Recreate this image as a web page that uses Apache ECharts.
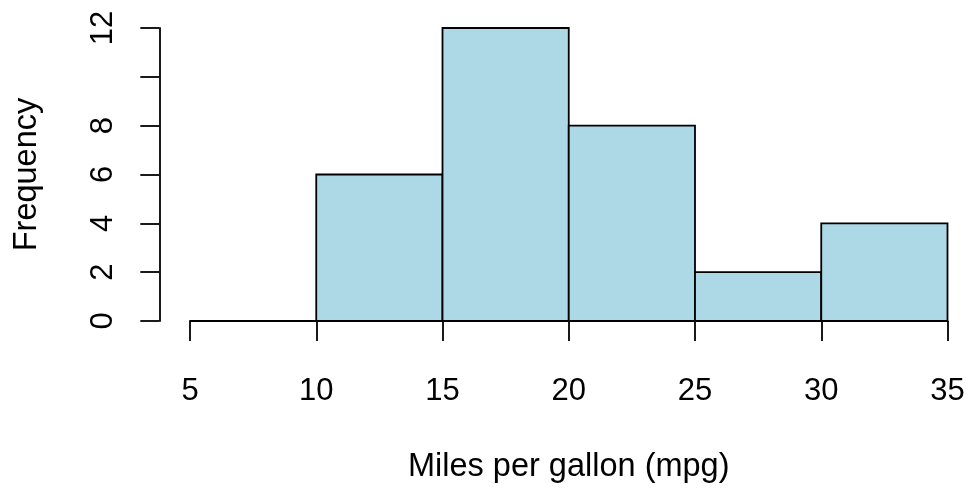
<!DOCTYPE html>
<html>
<head>
<meta charset="utf-8">
<script src="https://cdn.jsdelivr.net/npm/echarts@6/dist/echarts.min.js"></script>
<style>html,body{margin:0;padding:0;background:#fff}#c{width:969px;height:489px}</style>
</head>
<body>
<div id="c"></div>
<script>
const binEdges = [5, 10, 15, 20, 25, 30, 35];
const counts = [0, 6, 12, 8, 2, 4];
const yHiddenLabels = [10];
const xTitle = 'Miles per gallon (mpg)';
const yTitle = 'Frequency';

const histData = counts.map((c, i) => [binEdges[i], binEdges[i + 1], c]);
const FONT = 'Liberation Sans, Arial, sans-serif';
const FS = 31;
const FS_TITLE = 32.5;
const LW = 1.8;

const chart = echarts.init(document.getElementById('c'), null, {renderer: 'canvas'});
chart.setOption({
  animation: false,
  backgroundColor: '#ffffff',
  grid: {left: 190, right: 21.5, top: 28, bottom: 166, containLabel: false},
  xAxis: {
    type: 'value', min: binEdges[0], max: binEdges[binEdges.length - 1], interval: 5,
    offset: 11,
    splitLine: {show: false},
    axisLine: {show: true, lineStyle: {color: '#000', width: LW}},
    axisTick: {show: true, length: 20, lineStyle: {color: '#000', width: LW}},
    axisLabel: {color: '#000', fontSize: FS, fontFamily: FONT, margin: 44},
    name: xTitle, nameLocation: 'middle', nameGap: 119,
    nameTextStyle: {color: '#000', fontSize: FS_TITLE, fontFamily: FONT}
  },
  yAxis: {
    type: 'value', min: 0, max: 12, interval: 2,
    offset: 30.7,
    splitLine: {show: false},
    axisLine: {show: true, lineStyle: {color: '#000', width: LW}},
    axisTick: {show: true, length: 19, lineStyle: {color: '#000', width: LW}},
    axisLabel: {color: '#000', fontSize: FS, fontFamily: FONT, rotate: 90, margin: 40,
      formatter: v => yHiddenLabels.includes(v) ? '' : String(v)},
    name: yTitle, nameLocation: 'middle', nameGap: 116, nameRotate: 90,
    nameTextStyle: {color: '#000', fontSize: FS_TITLE, fontFamily: FONT}
  },
  series: [{
    type: 'custom',
    data: histData,
    encode: {x: [0, 1], y: 2},
    renderItem: function (params, api) {
      const p0 = api.coord([api.value(0), api.value(2)]);
      const p1 = api.coord([api.value(1), 0]);
      return {
        type: 'rect',
        shape: {x: p0[0], y: p0[1], width: p1[0] - p0[0], height: p1[1] - p0[1]},
        style: {fill: '#ADD8E6', stroke: '#000', lineWidth: LW}
      };
    }
  }]
});
</script>
</body>
</html>
